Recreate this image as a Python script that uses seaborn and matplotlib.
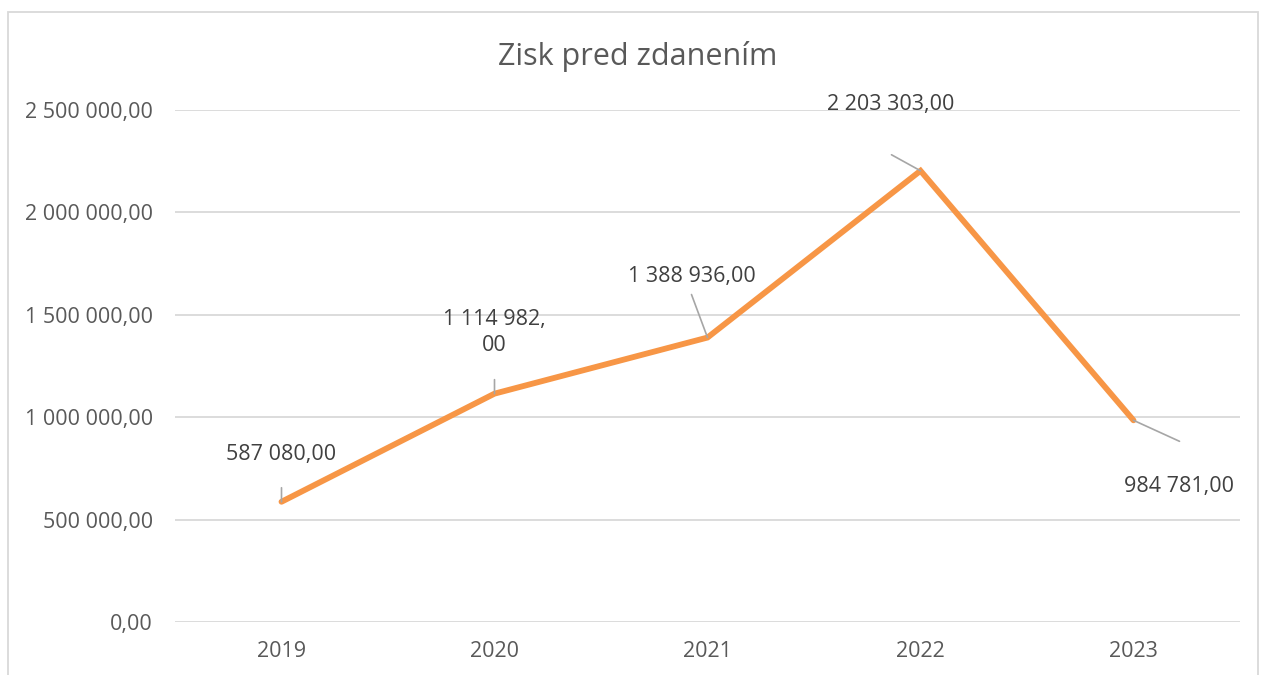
import numpy as np, pandas as pd
import matplotlib as mpl; mpl.use("Agg")
import matplotlib.pyplot as plt
from matplotlib.patches import Rectangle
import seaborn as sns

# ---- data ----
YEARS = ["2019", "2020", "2021", "2022", "2023"]
ZISK = [587080.00, 1114982.00, 1388936.00, 2203303.00, 984781.00]
Y_TICKS = [0, 500000, 1000000, 1500000, 2000000, 2500000]
TITLE = "Zisk pred zdanením"

# label placement (pixels rel. to point): text offset, leader end offset
LBL_OFF = [(0, 47), (0, 61), (-16, 61), (-30, 66), (45, -66)]
LEAD_OFF = [(0, 14), (0, 14), (-16, 43), (-29, 16), (46, -21)]

ORANGE = "#F79646"; GRID = "#D9D9D9"; LEAD = "#A6A6A6"
TXT = "#595959"; LBL = "#404040"

sns.set_theme(style="white")
plt.rcParams["font.family"] = ["Open Sans", "DejaVu Sans"]

def sk(v, wrap=False):
    s = f"{v:,.2f}".replace(",", " ").replace(".", ",")
    if wrap and len(s) > 10:
        s = s[:-2] + "\n" + s[-2:]
    return s

df = pd.DataFrame({"rok": YEARS, "zisk": ZISK})

fig = plt.figure(figsize=(12.68, 6.75), dpi=100)
ax = fig.add_axes([175/1268, 1-622/675, (1240-175)/1268, (622-110)/675])
sns.lineplot(data=df, x="rok", y="zisk", color=ORANGE, lw=4.2, sort=False, ax=ax,
             solid_capstyle="round", solid_joinstyle="miter")
ax.set_xlim(-0.5, len(YEARS) - 0.5)
ax.set_ylim(0, 2500000)
ax.set_yticks(Y_TICKS)
ax.set_yticklabels([sk(v) for v in Y_TICKS])
ax.yaxis.grid(True, color=GRID, lw=1.3)
ax.xaxis.grid(False)
for s in ax.spines.values(): s.set_visible(False)
ax.tick_params(axis="both", length=0, labelsize=15.5, labelcolor=TXT)
ax.tick_params(axis="y", pad=16)
ax.tick_params(axis="x", pad=14)
ax.set_xlabel(""); ax.set_ylabel("")

for i, (y, v) in enumerate(zip(YEARS, ZISK)):
    ax.annotate("", xy=(i, v), xytext=LEAD_OFF[i], textcoords="offset pixels",
                arrowprops=dict(arrowstyle="-", color=LEAD, lw=1.2, shrinkA=0, shrinkB=0))
    ax.annotate(sk(v, wrap=(i == 1)), xy=(i, v), xytext=LBL_OFF[i], textcoords="offset pixels",
                ha="center", va="center", fontsize=15.5, color=LBL, linespacing=1.3)

fig.text(638/1268, 1-57/675, TITLE, ha="center", va="center", fontsize=22, color=TXT)
fig.patches.append(Rectangle((8/1268, -0.1), (1258-8)/1268, 1.1-12/675,
                             transform=fig.transFigure, fill=False, ec=GRID, lw=1.3))
fig.savefig("out.png", dpi=100)
